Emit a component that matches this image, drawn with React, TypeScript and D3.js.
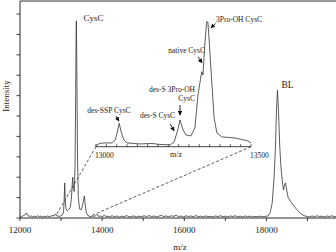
import React from "react";
import * as d3 from "d3";

const W = 336;
const H = 252;

// Main spectrum: [m/z, intensity] (intensity in y-tick units)
const mainSpectrum: [number, number][] = [
  [12000, 0.1], [12040, 0.06], [12080, 0.12], [12120, 0.15], [12158, 0.25], [12190, 0.12],
  [12230, 0.08], [12270, 0.1], [12310, 0.05], [12350, 0.09], [12390, 0.06], [12430, 0.11],
  [12470, 0.07], [12510, 0.09], [12550, 0.05], [12590, 0.08], [12630, 0.06], [12670, 0.1],
  [12710, 0.07], [12750, 0.09], [12790, 0.12], [12830, 0.1], [12863, 0.2], [12900, 0.1],
  [12950, 0.08], [12990, 0.1], [13030, 0.15], [13060, 0.3], [13075, 0.9], [13089, 1.72],
  [13100, 0.9], [13120, 0.45], [13150, 0.35], [13180, 0.4], [13220, 0.5], [13250, 0.9],
  [13270, 1.6], [13284, 2.0], [13300, 1.4], [13320, 1.3], [13340, 2.5], [13355, 6.0],
  [13368, 9.5], [13374, 9.67], [13385, 7.0], [13400, 3.0], [13420, 1.0], [13450, 0.45],
  [13490, 0.4], [13520, 0.6], [13550, 0.9], [13568, 1.08], [13585, 0.7], [13610, 0.3],
  [13650, 0.12], [13690, 0.09], [13730, 0.06], [13770, 0.1], [13810, 0.08], [13850, 0.12],
  [13877, 0.18], [13910, 0.08], [13950, 0.1], [13990, 0.06], [14030, 0.1], [14055, 0.15],
  [14090, 0.07], [14120, 0.09], [14180, 0.05], [14240, 0.11], [14300, 0.06], [14360, 0.1],
  [14420, 0.04], [14480, 0.09], [14540, 0.07], [14600, 0.12], [14660, 0.05], [14720, 0.08],
  [14780, 0.1], [14840, 0.05], [14900, 0.09], [14960, 0.06], [15020, 0.11], [15080, 0.07],
  [15140, 0.12], [15200, 0.06], [15260, 0.1], [15320, 0.05], [15380, 0.09], [15440, 0.13],
  [15500, 0.07], [15560, 0.1], [15620, 0.06], [15680, 0.11], [15740, 0.08], [15800, 0.13],
  [15860, 0.07], [15920, 0.1], [15980, 0.05], [16040, 0.11], [16100, 0.07], [16160, 0.1],
  [16220, 0.06], [16280, 0.12], [16340, 0.07], [16400, 0.09], [16460, 0.05], [16520, 0.1],
  [16580, 0.07], [16640, 0.08], [16700, 0.05], [16760, 0.1], [16820, 0.07], [16880, 0.11],
  [16940, 0.06], [17000, 0.09], [17060, 0.05], [17120, 0.1], [17180, 0.07], [17240, 0.11],
  [17300, 0.06], [17360, 0.09], [17420, 0.05], [17480, 0.1], [17540, 0.07], [17600, 0.09],
  [17660, 0.05], [17720, 0.08], [17780, 0.06], [17840, 0.09], [17900, 0.07], [17945, 0.07],
  [18043, 0.1], [18091, 0.27], [18140, 0.74], [18188, 2.06], [18220, 3.53], [18244, 5.29],
  [18269, 6.27], [18293, 5.29], [18322, 3.58], [18351, 2.55], [18383, 1.86], [18415, 1.37],
  [18440, 1.62], [18463, 1.72], [18492, 1.37], [18529, 1.0], [18609, 0.75], [18731, 0.43],
  [18852, 0.18], [18935, 0.1], [18990, 0.08], [19050, 0.05], [19110, 0.1], [19170, 0.06],
  [19230, 0.11], [19290, 0.07], [19350, 0.09], [19410, 0.05], [19470, 0.1], [19530, 0.07],
  [19590, 0.11], [19650, 0.06], [19710, 0.09], [19770, 0.05], [19830, 0.1],
];

// Inset spectrum (zoom 13000–13500): [m/z, relative intensity %]
const insetSpectrum: [number, number][] = [
  [12997, 0.5], [13013, 2.7], [13030, 3.0], [13052, 3.0], [13062, 5.4], [13068, 11],
  [13075, 18.7], [13082, 11], [13090, 5.4], [13100, 3.0], [13142, 2.2], [13180, 2.6],
  [13206, 1.8], [13239, 1.4], [13252, 3.8], [13261, 11], [13266, 15.8], [13271, 21.4],
  [13276, 17.4], [13281, 13.4], [13290, 9.4], [13306, 8.6], [13319, 15], [13329, 41.4],
  [13341, 60], [13345, 57.4], [13352, 85.4], [13357, 100], [13361, 99.8], [13366, 81.4],
  [13371, 61.4], [13381, 23], [13390, 11], [13406, 7.8], [13430, 7.4], [13448, 7],
  [13470, 5.8], [13490, 4.6], [13500, 3.0],
];

const xTicks = [12000, 13000, 14000, 15000, 16000, 17000, 18000, 19000, 20000];
const xTickLabels = [12000, 14000, 16000, 18000, 20000];
const yTicks = [0, 1, 2, 3, 4, 5, 6, 7, 8, 9, 10];
const insetTickLabels = [13000, 13500];

const mainLabels = [
  { text: "CysC", mz: 13374, i: 9.67, dx: 7, dy: 0, size: 9 },
  { text: "BL", mz: 18269, i: 6.27, dx: 4, dy: -2, size: 9.5 },
];

const insetNotes = [
  { lines: ["3Pro-OH CysC"], mz: 13371, i: 95, anchor: "start", tx: 5, ty: -6, ax: 4.5, ay: -4.5 },
  { lines: ["native CysC"], mz: 13342, i: 67, anchor: "end", tx: 3, ty: -10, ax: -4, ay: -6 },
  { lines: ["des-S 3Pro-OH", "CysC"], mz: 13271, i: 25.3, anchor: "end", tx: 15, ty: -23, ax: 0, ay: -10 },
  { lines: ["des-S CysC"], mz: 13252, i: 12.6, anchor: "end", tx: 1, ty: -13, ax: -4, ay: -7 },
  { lines: ["des-SSP CysC"], mz: 13074, i: 20.5, anchor: "middle", tx: -10, ty: -8, ax: -3, ay: -5 },
];

const FONT = "'Liberation Serif', 'Times New Roman', serif";

export default function App() {
  const x = d3.scaleLinear().domain([12000, 20000]).range([20, 348.6]);
  const y = d3.scaleLinear().domain([0, 10.64]).range([218, 1]);
  const xi = d3.scaleLinear().domain([13000, 13500]).range([96, 251]);
  const yi = d3.scaleLinear().domain([0, 100]).range([146.7, 21.7]);

  const line = d3.line<[number, number]>().x((d) => x(d[0])).y((d) => y(d[1]));
  const insetLine = d3.line<[number, number]>().x((d) => xi(d[0])).y((d) => yi(d[1]));
  const insetTicks = d3.range(0, 16).map((k) => 13000 + (k * 500) / 15);

  const axisY = y(0);
  const insetAxisY = yi(0);

  return (
    <svg
      width={W}
      height={H}
      style={{ position: "absolute", left: 0, top: 0, background: "#fff" }}
      fontFamily={FONT}
    >
      <defs>
        <marker id="arr" viewBox="0 0 10 10" refX="9" refY="5" markerWidth="4.5" markerHeight="4.5"
          markerUnits="userSpaceOnUse" orient="auto">
          <path d="M0,0 L10,5 L0,10 z" fill="#111" />
        </marker>
      </defs>
      <rect x={0} y={0} width={W} height={H} fill="#fff" />

      {/* top frame */}
      <line x1={x(12000)} x2={W} y1={y(10.64)} y2={y(10.64)} stroke="#999" strokeWidth={2} />

      {/* dashed connectors */}
      <line x1={xi(13000)} y1={insetAxisY} x2={x(12870)} y2={y(0.1)} stroke="#333" strokeWidth={0.8} strokeDasharray="3,2" />
      <line x1={xi(13500)} y1={insetAxisY} x2={x(13720)} y2={y(0.1)} stroke="#333" strokeWidth={0.8} strokeDasharray="3,2" />

      {/* main spectrum */}
      <path d={line(mainSpectrum) || ""} fill="none" stroke="#333" strokeWidth={0.8} />

      {/* axes */}
      <line x1={x(12000)} x2={W} y1={axisY} y2={axisY} stroke="#111" strokeWidth={0.9} />
      <line x1={x(12000)} x2={x(12000)} y1={axisY} y2={y(10.64)} stroke="#111" strokeWidth={0.9} />
      {xTicks.map((t) => (
        <line key={"xt" + t} x1={x(t)} x2={x(t)} y1={axisY} y2={axisY + 3} stroke="#111" strokeWidth={0.8} />
      ))}
      {xTickLabels.map((t) => (
        <text key={"xl" + t} x={x(t)} y={233} fontSize={9} textAnchor="middle" fill="#222">{t}</text>
      ))}
      {yTicks.map((t) => (
        <line key={"yt" + t} x1={x(12000) - 3.5} x2={x(12000)} y1={y(t)} y2={y(t)} stroke="#111" strokeWidth={0.8} />
      ))}
      <text x={180} y={250} fontSize={9} textAnchor="middle" fill="#222">m/z</text>
      <text transform="translate(8.5,96) rotate(-90)" fontSize={9} textAnchor="middle" fill="#222">Intensity</text>

      {mainLabels.map((l) => (
        <text key={l.text} x={x(l.mz) + l.dx} y={y(l.i) + l.dy} fontSize={l.size} fill="#222">{l.text}</text>
      ))}

      {/* inset */}
      <path d={insetLine(insetSpectrum) || ""} fill="none" stroke="#333" strokeWidth={0.8} />
      <line x1={xi(13000)} x2={xi(13500)} y1={insetAxisY} y2={insetAxisY} stroke="#111" strokeWidth={0.8} />
      {insetTicks.map((t, k) => (
        <line key={"it" + k} x1={xi(t)} x2={xi(t)} y1={insetAxisY} y2={insetAxisY - 2.5} stroke="#111" strokeWidth={0.7} />
      ))}
      {insetTickLabels.map((t) => (
        <text key={"il" + t} x={xi(t) - 1} y={158} fontSize={7.5} fill="#222">{t}</text>
      ))}
      <text x={176} y={157} fontSize={8} textAnchor="middle" fill="#222">m/z</text>

      {insetNotes.map((n, k) => {
        const px = xi(n.mz);
        const py = yi(n.i);
        return (
          <g key={"n" + k}>
            <line x1={px + n.ax} y1={py + n.ay} x2={px} y2={py} stroke="#111" strokeWidth={0.9} markerEnd="url(#arr)" />
            {n.lines.map((s, j) => (
              <text key={j} x={px + n.tx} y={py + n.ty + j * 9} fontSize={7.5}
                textAnchor={n.anchor as any} fill="#222">{s}</text>
            ))}
          </g>
        );
      })}
    </svg>
  );
}
